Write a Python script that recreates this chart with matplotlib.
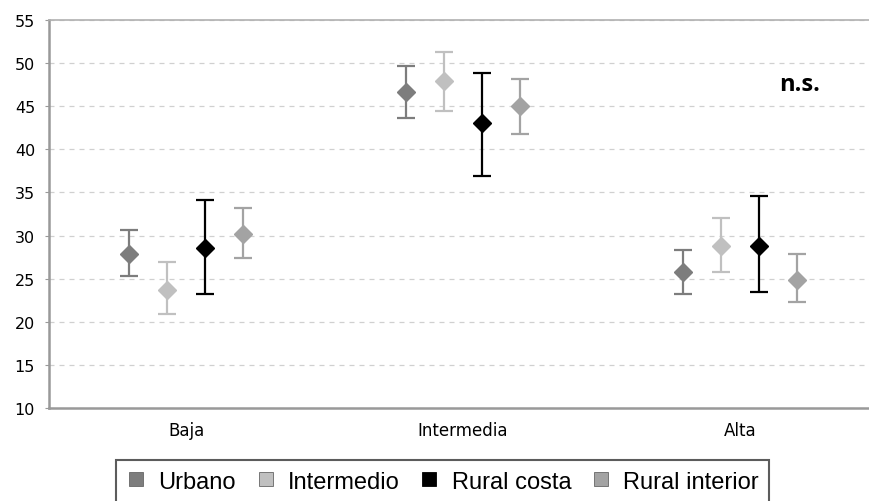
import matplotlib
matplotlib.use("Agg")
import matplotlib.pyplot as plt
from matplotlib.lines import Line2D
import numpy as np

plt.rcParams['font.family'] = ['Liberation Sans', 'DejaVu Sans']

# Categories and groups
niveles = ["Baja", "Intermedia", "Alta"]
grupos = ["Urbano", "Intermedio", "Rural costa", "Rural interior"]
colores = ["#7d7d7d", "#c0c0c0", "#000000", "#a3a3a3"]

# Means and interval limits per group (Baja, Intermedia, Alta)
medias = {
    "Urbano":         [27.9, 46.7, 25.8],
    "Intermedio":     [23.7, 47.9, 28.8],
    "Rural costa":    [28.5, 43.0, 28.8],
    "Rural interior": [30.2, 45.0, 24.9],
}
superior = {
    "Urbano":         [30.6, 49.7, 28.3],
    "Intermedio":     [26.9, 51.3, 32.0],
    "Rural costa":    [34.1, 48.9, 34.6],
    "Rural interior": [33.2, 48.2, 27.9],
}
inferior = {
    "Urbano":         [25.3, 43.6, 23.2],
    "Intermedio":     [20.9, 44.4, 25.8],
    "Rural costa":    [23.2, 36.9, 23.5],
    "Rural interior": [27.4, 41.8, 22.3],
}

fig = plt.figure(figsize=(8.7, 5.02), dpi=100)
ax = fig.add_axes([49 / 870, 1 - 409 / 502, 1 - 49 / 870, (409 - 21) / 502])

x = np.arange(len(niveles))
desplaz = [-0.206, -0.069, 0.069, 0.206]

for g, c, d in zip(grupos, colores, desplaz):
    m = np.array(medias[g])
    lo = m - np.array(inferior[g])
    hi = np.array(superior[g]) - m
    ax.errorbar(x + d, m, yerr=[lo, hi], fmt='none', ecolor=c,
                elinewidth=1.6, capsize=6.5, capthick=1.6, zorder=2)
    ax.plot(x + d, m, linestyle='none', marker='D', markersize=9.5,
            color=c, markeredgecolor=c, zorder=3)

ax.set_xlim(-0.495, -0.495 + 821 / 277)
ax.set_ylim(10, 55)
ax.set_yticks(np.arange(10, 56, 5))
ax.set_xticks(x)
ax.set_xticklabels(niveles, fontsize=12, family=['DejaVu Sans'])
for t in ax.get_yticklabels():
    t.set_family(['DejaVu Sans'])

ax.yaxis.grid(True, linestyle=(0, (4, 4)), color="#d0d0d0", linewidth=0.9)
ax.set_axisbelow(True)

ax.spines["right"].set_visible(False)
ax.spines["top"].set_color("#b0b0b0")
ax.spines["top"].set_linewidth(1.2)
for s in ["left", "bottom"]:
    ax.spines[s].set_color("#999999")
    ax.spines[s].set_linewidth(1.8)

ax.tick_params(axis='y', labelsize=11.5, length=3, color="#999999", pad=7)
ax.tick_params(axis='x', length=0, pad=9)

# significance note (pixel coordinates, origin at bottom left)
ax.text(800, 502 - 91, "n.s.", transform=None, fontsize=17, fontweight='bold',
        family=['Open Sans', 'DejaVu Sans'], ha='center', va='baseline')

handles = [Line2D([], [], linestyle='none', marker='s', markersize=9.4,
                  color=c, markeredgecolor="#666666" if c != "#000000" else c,
                  markeredgewidth=0.6)
           for c in colores]
leg = fig.legend(handles, grupos, loc='upper left', ncol=4,
                 bbox_to_anchor=(116 / 870, 1 - 461 / 502), fontsize=17,
                 frameon=True, fancybox=False, handlelength=0.8,
                 handletextpad=0.55, columnspacing=0.85, borderpad=0.45,
                 borderaxespad=0)
leg.get_frame().set_edgecolor("#333333")
leg.get_frame().set_linewidth(1.5)

fig.savefig("out.png", dpi=100)
